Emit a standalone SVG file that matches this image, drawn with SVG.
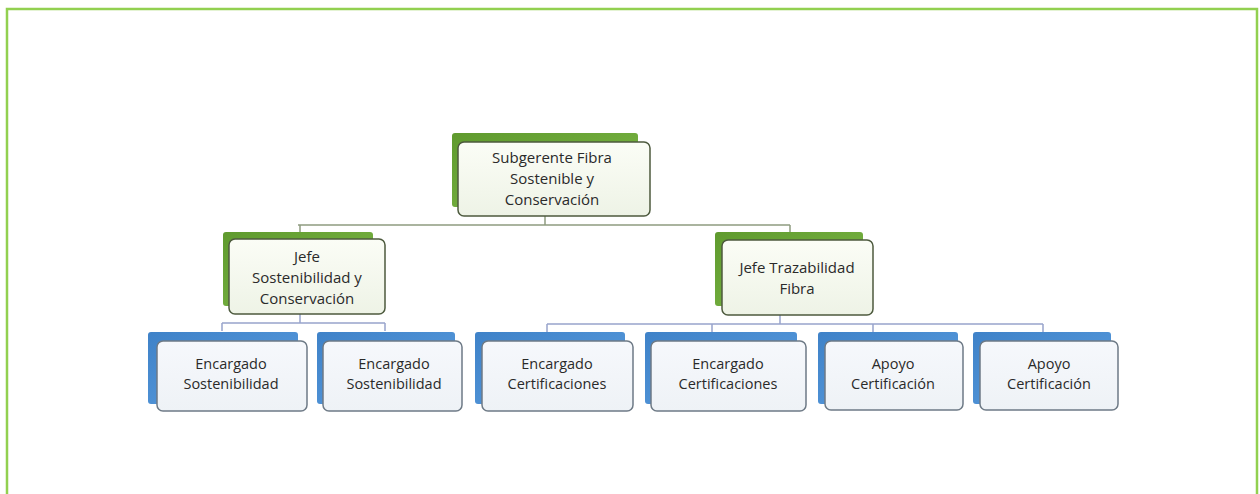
<svg xmlns="http://www.w3.org/2000/svg" width="1260" height="494" viewBox="0 0 1260 494">
<defs>
<linearGradient id="gback" x1="0" y1="0" x2="1" y2="1">
<stop offset="0" stop-color="#5f9a2e"/><stop offset="1" stop-color="#7fba48"/>
</linearGradient>
<linearGradient id="bback" x1="0" y1="0" x2="1" y2="1">
<stop offset="0" stop-color="#3f82c8"/><stop offset="1" stop-color="#5b9ee0"/>
</linearGradient>
<linearGradient id="gfront" x1="0" y1="0" x2="0" y2="1">
<stop offset="0" stop-color="#fbfdf6"/><stop offset="1" stop-color="#eef3e6"/>
</linearGradient>
<linearGradient id="bfront" x1="0" y1="0" x2="0" y2="1">
<stop offset="0" stop-color="#f6f8fc"/><stop offset="1" stop-color="#eef2f6"/>
</linearGradient>
<style>
.gb{fill:url(#gback)}
.bb{fill:url(#bback)}
.gf{fill:url(#gfront);stroke:#4d5a3e;stroke-width:1.5}
.bf{fill:url(#bfront);stroke:#6e7a86;stroke-width:1.5}
.t{font-family:"Open Sans","Liberation Sans",sans-serif;font-size:15px;fill:#2a2a2a;text-anchor:middle}
.s{font-size:14.5px}
.cg{stroke:#8e9c80;stroke-width:1.5;fill:none}
.cb{stroke:#98a4cc;stroke-width:1.5;fill:none}
</style>
</defs>
<rect x="0" y="0" width="1260" height="494" fill="#ffffff"/>
<path d="M7 494 V9 H1257 V494" fill="none" stroke="#92d050" stroke-width="2.5"/>
<g id="connectors">
<path class="cg" d="M545 215 V225 M298 225 H790 M300 225 V232 M790 225 V232"/>
<path class="cb" d="M300 313 V323 M222 323 H385 M222 323 V331 M385 323 V331"/>
<path class="cb" d="M780 313 V324 M547 324 H1043 M547 324 V332 M712 324 V332 M873 324 V332 M1043 324 V332"/>
</g>
<g id="n_subgerente">
<rect class="gb" x="452" y="133" width="186" height="74" rx="3"/>
<rect class="gf" x="458" y="142" width="192" height="74" rx="6"/>
<text class="t" x="552" y="163">Subgerente Fibra</text>
<text class="t" x="552" y="184">Sostenible y</text>
<text class="t" x="552" y="205">Conservación</text>
</g>
<g id="n_jefe_sost">
<rect class="gb" x="223" y="232" width="150" height="74" rx="3"/>
<rect class="gf" x="229" y="239" width="156" height="75" rx="6"/>
<text class="t" x="307" y="262">Jefe</text>
<text class="t" x="307" y="283">Sostenibilidad y</text>
<text class="t" x="307" y="304">Conservación</text>
</g>
<g id="n_jefe_traz">
<rect class="gb" x="715" y="232" width="148" height="74" rx="3"/>
<rect class="gf" x="722" y="240" width="151" height="75" rx="6"/>
<text class="t" x="797" y="273">Jefe Trazabilidad</text>
<text class="t" x="797" y="294">Fibra</text>
</g>
<g id="n_enc_sost1">
<rect class="bb" x="148" y="332" width="150" height="72" rx="3"/>
<rect class="bf" x="157" y="341" width="150" height="70" rx="6"/>
<text class="t s" x="231" y="369">Encargado</text>
<text class="t s" x="231" y="389">Sostenibilidad</text>
</g>
<g id="n_enc_sost2">
<rect class="bb" x="317" y="332" width="138" height="72" rx="3"/>
<rect class="bf" x="323" y="341" width="139" height="70" rx="6"/>
<text class="t s" x="394" y="369">Encargado</text>
<text class="t s" x="394" y="389">Sostenibilidad</text>
</g>
<g id="n_enc_cert1">
<rect class="bb" x="475" y="332" width="150" height="72" rx="3"/>
<rect class="bf" x="482" y="341" width="151" height="70" rx="6"/>
<text class="t s" x="557" y="369">Encargado</text>
<text class="t s" x="557" y="389">Certificaciones</text>
</g>
<g id="n_enc_cert2">
<rect class="bb" x="645" y="332" width="152" height="72" rx="3"/>
<rect class="bf" x="651" y="341" width="155" height="70" rx="6"/>
<text class="t s" x="728" y="369">Encargado</text>
<text class="t s" x="728" y="389">Certificaciones</text>
</g>
<g id="n_apoyo1">
<rect class="bb" x="818" y="332" width="140" height="72" rx="3"/>
<rect class="bf" x="825" y="341" width="138" height="69" rx="6"/>
<text class="t s" x="893" y="369">Apoyo</text>
<text class="t s" x="893" y="389">Certificación</text>
</g>
<g id="n_apoyo2">
<rect class="bb" x="973" y="332" width="138" height="72" rx="3"/>
<rect class="bf" x="980" y="341" width="138" height="69" rx="6"/>
<text class="t s" x="1049" y="369">Apoyo</text>
<text class="t s" x="1049" y="389">Certificación</text>
</g>
</svg>
